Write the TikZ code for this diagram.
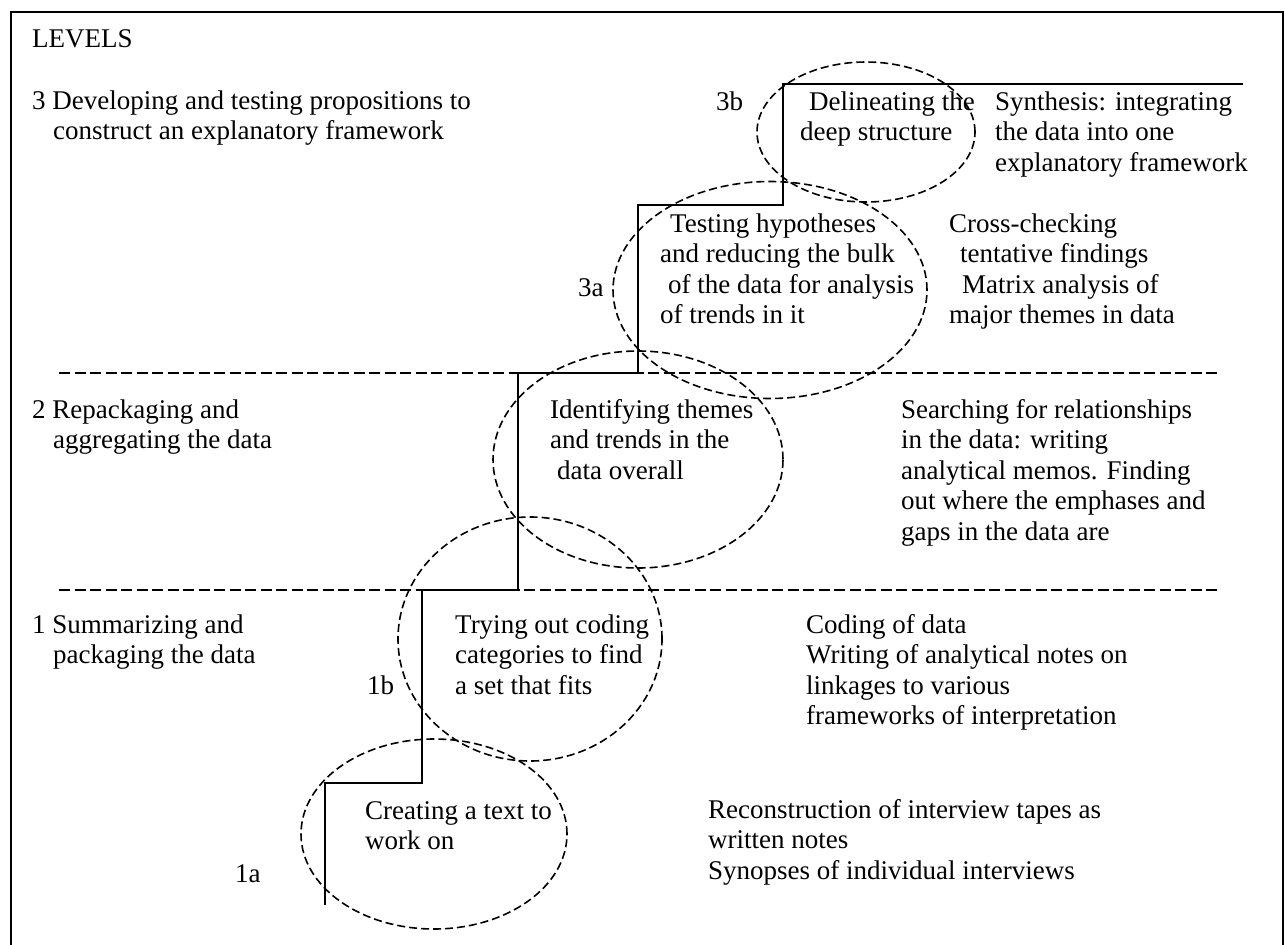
\documentclass[tikz,border=0pt]{standalone}
\usepackage{fontspec}
\setmainfont{Liberation Serif}
\begin{document}
\begin{tikzpicture}[x=1pt,y=-1pt,
  % text blocks are placed by the baseline of their last line
  txt/.style={anchor=base west, inner sep=0pt, align=left,
              font=\fontsize{27}{30.5}\selectfont},
  stair/.style={line width=2pt, line join=miter},
  divider/.style={line width=1.7pt, dash pattern=on 11pt off 4.5pt},
  region/.style={line width=1.6pt, dash pattern=on 8pt off 4pt},
  frame/.style={line width=2.6pt}]
\useasboundingbox (0,0) rectangle (1285,945);

% outer frame
\draw[frame] (11,12) rectangle (1283,990);

% level dividers
\coordinate (d1l) at (59,373);  \coordinate (d1r) at (1218,373);
\coordinate (d2l) at (59,590);  \coordinate (d2r) at (1218,590);
\draw[divider] (d1l) -- (d1r);
\draw[divider] (d2l) -- (d2r);

% staircase of stages
\coordinate (s0) at (325,905);
\coordinate (s1) at (422,783);
\coordinate (s2) at (518,590);
\coordinate (s3) at (638,373);
\coordinate (s4) at (783,205);
\coordinate (s5) at (1243,84);
\draw[stair] (s0) |- (s1) |- (s2) |- (s3) |- (s4) |- (s5);

% dashed regions around each stage
\draw[region] (434,834) ellipse [x radius=133pt, y radius=95pt];
\draw[region] (530,639) ellipse [x radius=132pt, y radius=122pt];
\draw[region] (638,459.5) ellipse [x radius=145pt, y radius=108.5pt];
\draw[region] (770,290) ellipse [x radius=157pt, y radius=108.5pt];
\draw[region] (866,132) ellipse [x radius=109pt, y radius=70pt];

% texts
\node[txt] (levels) at (32,47) {LEVELS};
\node[txt] (lvl3) at (32,139.5) {3 Developing and testing propositions to\\\hspace*{21pt}construct an explanatory framework};
\node[txt] (lbl3b) at (716,110) {3b};
\node[txt] (st3b) at (800,140.5) {\hspace*{9pt}Delineating the\\deep structure};
\node[txt] (rt3b) at (995,171) {Synthesis: integrating\\the data into one\\explanatory framework};

\node[txt] (st3a) at (660,323.5) {\hspace*{10pt}Testing hypotheses\\and reducing the bulk\\\hspace*{8pt}of the data for analysis\\of trends in it};
\node[txt] (lbl3a) at (578,296) {3a};
\node[txt] (rt3a) at (949,323.5) {Cross-checking\\\hspace*{11pt}tentative findings\\\hspace*{13pt}Matrix analysis of\\major themes in data};

\node[txt] (lvl2) at (32,448.5) {2 Repackaging and\\\hspace*{21pt}aggregating the data};
\node[txt] (st2) at (550,479) {Identifying themes\\and trends in the\\\hspace*{7pt}data overall};
\node[txt] (rt2) at (901,540) {Searching for relationships\\in the data: writing\\analytical memos. Finding\\out where the emphases and\\gaps in the data are};

\node[txt] (lvl1) at (32,663.5) {1 Summarizing and\\\hspace*{21pt}packaging the data};
\node[txt] (st1b) at (455,694) {Trying out coding\\categories to find\\a set that fits};
\node[txt] (lbl1b) at (367,694) {1b};
\node[txt] (rt1b) at (806,724.5) {Coding of data\\Writing of analytical notes on\\linkages to various\\frameworks of interpretation};

\node[txt] (st1a) at (365,849.5) {Creating a text to\\work on};
\node[txt] (lbl1a) at (235,882) {1a};
\node[txt] (rt1a) at (708,879) {Reconstruction of interview tapes as\\written notes\\Synopses of individual interviews};
\end{tikzpicture}
\end{document}
